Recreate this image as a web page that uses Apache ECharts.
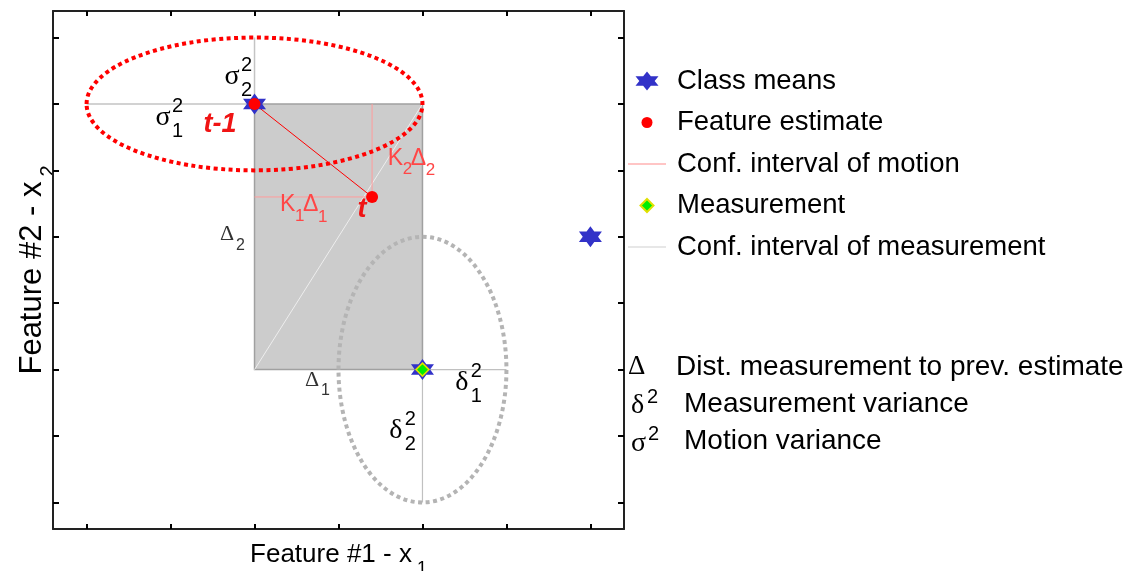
<!DOCTYPE html>
<html><head><meta charset="utf-8">
<script src="https://cdn.jsdelivr.net/npm/echarts@6/dist/echarts.min.js"></script>
<style>html,body{margin:0;padding:0;background:#fff}#c{width:1142px;height:571px}</style>
</head><body><div id="c"></div>
<script>
const SANS = '"Liberation Sans", Arial, sans-serif';
const SERIF = '"Liberation Serif", "Times New Roman", serif';

// ---- axes ----
const xRange = [0.6, 7.4];
const yRange = [0.6, 8.4];
const xTicks = [1, 2, 3, 4, 5, 6, 7];
const yTicks = [1, 2, 3, 4, 5, 6, 7, 8];

// ---- data ----
const classMeans = [[3, 7], [5, 3], [7, 5]];
const featureEstimates = [[3, 7], [4.4, 5.6]];
const measurement = [[5, 3]];
const estimateTrack = [[3, 7], [4.4, 5.6]];
const motionGuide = [[3, 5.6], [4.4, 5.6], [4.4, 7]];
const measurementGuide = [[6, 3], [5, 3], [5, 1]];
const motionVarianceGuide = [[1, 7], [3, 7], [3, 8]];
const distanceBox = [[3, 3, 5, 7]];
const distanceDiagonal = [[3, 3], [5, 7]];
const motionEllipse = [[3, 7, 2, 1]];          // cx, cy, semi-x, semi-y
const measurementEllipse = [[5, 3, 1, 2]];

// ---- texts ----
const legendNames = ['Class means', 'Feature estimate', 'Conf. interval of motion', 'Measurement', 'Conf. interval of measurement'];
const noteSymbols = ['Δ', 'δ', 'σ'];
const noteTexts = ['Dist. measurement to prev. estimate', 'Measurement variance', 'Motion variance'];
const xTitle = ['Feature #1 - x', '1'];
const yTitle = ['Feature #2 - x', '2'];
const annotations = [
  { at: [2.731, 7.406], type: 'var', base: 'σ', sup: '2', sub: '2' },
  { at: [1.910, 6.789], type: 'var', base: 'σ', sup: '2', sub: '1' },
  { at: [5.469, 2.798], type: 'var', base: 'δ', sup: '2', sub: '1' },
  { at: [4.683, 2.075], type: 'var', base: 'δ', sup: '2', sub: '2' },
  { at: [2.588, 6.683], type: 'time', base: 't-1' },
  { at: [4.279, 5.403], type: 'time', base: 't' },
  { at: [4.588, 6.179], type: 'gain', sub: '2' },
  { at: [3.302, 5.478], type: 'gain', sub: '1' },
  { at: [2.588, 5.034], type: 'dist', sub: '2' },
  { at: [3.600, 2.843], type: 'dist', sub: '1' }
];

const starPath = 'path://M19,0.5L22.84,5.25L30.5,5.25L26.66,10L30.5,14.75L22.84,14.75L19,19.5L15.16,14.75L7.5,14.75L11.34,10L7.5,5.25L15.16,5.25Z';
const starIcon = 'path://M0,0M38,20M19,0.5L22.84,5.25L30.5,5.25L26.66,10L30.5,14.75L22.84,14.75L19,19.5L15.16,14.75L7.5,14.75L11.34,10L7.5,5.25L15.16,5.25Z';
const dotIcon = 'path://M0,0M38,20M24.5,10A5.5,5.5,0,1,1,13.5,10A5.5,5.5,0,1,1,24.5,10Z';
const diamondIcon = 'path://M0,0M38,20M19,3.5L25.5,10L19,16.5L12.5,10Z';
const lineIcon = 'path://M0,0M38,20M0,9.4L38,9.4L38,10.6L0,10.6Z';

function txt(kids, p, text, dx, dy, size, color, align, family, extra) {
  kids.push({
    type: 'text', x: p[0] + dx, y: p[1] + dy,
    style: Object.assign({ text: text, fontSize: size, fontFamily: family || SANS, fill: color, align: align, verticalAlign: 'middle' }, extra || {})
  });
}

function annotationItem(params, api) {
  const a = annotations[params.dataIndex];
  const p = api.coord([api.value(0), api.value(1)]);
  const kids = [];
  if (a.type === 'var') {
    txt(kids, p, a.base, 0, 0, 28, '#000', 'center', SERIF);
    txt(kids, p, a.sup, 9, -12, 20, '#000', 'left');
    txt(kids, p, a.sub, 9, 13, 20, '#000', 'left');
  } else if (a.type === 'time') {
    txt(kids, p, a.base, 0, 0, 27, '#f01414', 'center', SANS, { fontWeight: 'bold', fontStyle: 'italic' });
  } else if (a.type === 'gain') {
    const c = '#ff4646';
    txt(kids, p, 'K', 0, 0, 23, c, 'left');
    txt(kids, p, a.sub, 15, 11, 17, c, 'left');
    txt(kids, p, 'Δ', 23, 0, 23, c, 'left');
    txt(kids, p, a.sub, 38, 12, 17, c, 'left');
  } else if (a.type === 'dist') {
    const c = '#333333';
    txt(kids, p, 'Δ', 0, 0, 22, c, 'left', SERIF);
    txt(kids, p, a.sub, 16, 11, 16, c, 'left');
  }
  return { type: 'group', children: kids };
}

function ellipseItem(color) {
  return function (params, api) {
    const c = api.coord([api.value(0), api.value(1)]);
    const s = api.size([api.value(2), api.value(3)]);
    return {
      type: 'ellipse',
      shape: { cx: c[0], cy: c[1], rx: s[0], ry: s[1] },
      style: { fill: null, stroke: color, lineWidth: 4, lineDash: [4, 3.5], lineCap: 'butt' }
    };
  };
}

function boxItem(params, api) {
  const p1 = api.coord([api.value(0), api.value(3)]);
  const p2 = api.coord([api.value(2), api.value(1)]);
  return {
    type: 'rect',
    shape: { x: p1[0], y: p1[1], width: p2[0] - p1[0], height: p2[1] - p1[1] },
    style: { fill: '#cccccc', stroke: '#a0a0a0', lineWidth: 1.5 }
  };
}

function axisCommon(extra) {
  return Object.assign({
    type: 'value',
    axisLine: { show: true, onZero: false, lineStyle: { color: '#222', width: 2 } },
    axisTick: { show: true, inside: true, length: 5, lineStyle: { color: '#000', width: 2 } },
    axisLabel: { show: false },
    splitLine: { show: false },
    nameMoveOverlap: false
  }, extra);
}

const richX = {
  b: { fontSize: 26, lineHeight: 26, fontFamily: SANS, color: '#000', verticalAlign: 'top' },
  s: { fontSize: 18, lineHeight: 18, fontFamily: SANS, color: '#000', verticalAlign: 'top', padding: [18, 0, 0, 5] }
};
const richY = {
  b: { fontSize: 31, lineHeight: 31, fontFamily: SANS, color: '#000', verticalAlign: 'top' },
  s: { fontSize: 20, lineHeight: 20, fontFamily: SANS, color: '#000', verticalAlign: 'top', padding: [21, 0, 0, 5] }
};

const graphicNotes = [];
function note(text, x, y, size, family) {
  graphicNotes.push({ type: 'text', x: x, y: y, style: { text: text, fontSize: size, fontFamily: family || SANS, fill: '#000', align: 'left', verticalAlign: 'middle' } });
}
note(noteSymbols[0], 628, 367, 27, SERIF);
note(noteTexts[0], 676, 367, 28);
note(noteSymbols[1], 631, 406, 28, SERIF);
note('2', 647, 397, 20);
note(noteTexts[1], 684, 404, 28);
note(noteSymbols[2], 631, 444, 28, SERIF);
note('2', 648, 434, 20);
note(noteTexts[2], 684, 441, 28);

const chart = echarts.init(document.getElementById('c'), null, { renderer: 'canvas' });
chart.setOption({
  animation: false,
  backgroundColor: '#fff',
  grid: { left: 53, right: 518, top: 11, bottom: 42, containLabel: false, outerBoundsMode: 'none' },
  xAxis: [
    axisCommon({
      min: xRange[0], max: xRange[1], position: 'bottom',
      axisTick: { show: true, inside: true, length: 5, customValues: xTicks, lineStyle: { color: '#000', width: 2 } },
      name: '{b|' + xTitle[0] + '}{s|' + xTitle[1] + '}', nameLocation: 'middle', nameGap: 13,
      nameTextStyle: { rich: richX }
    }),
    axisCommon({
      min: xRange[0], max: xRange[1], position: 'top',
      axisTick: { show: true, inside: true, length: 5, customValues: xTicks, lineStyle: { color: '#000', width: 2 } }
    })
  ],
  yAxis: [
    axisCommon({
      min: yRange[0], max: yRange[1], position: 'left',
      axisTick: { show: true, inside: true, length: 6, customValues: yTicks, lineStyle: { color: '#000', width: 2 } },
      name: '{b|' + yTitle[0] + '}{s|' + yTitle[1] + '}', nameLocation: 'middle', nameGap: 5, nameRotate: 90,
      nameTextStyle: { rich: richY }
    }),
    axisCommon({
      min: yRange[0], max: yRange[1], position: 'right',
      axisTick: { show: true, inside: true, length: 6, customValues: yTicks, lineStyle: { color: '#000', width: 2 } }
    })
  ],
  legend: {
    orient: 'vertical', left: 622, top: 62,
    itemWidth: 38, itemHeight: 20, itemGap: 13.5,
    selectedMode: false,
    textStyle: { fontSize: 27.5, lineHeight: 27, fontFamily: SANS, color: '#000', padding: [0, 0, 0, 6] },
    data: [
      { name: legendNames[0], icon: starIcon },
      { name: legendNames[1], icon: dotIcon },
      { name: legendNames[2], icon: lineIcon, itemStyle: { color: '#ff8c8c', borderWidth: 0 } },
      { name: legendNames[3], icon: diamondIcon },
      { name: legendNames[4], icon: lineIcon, itemStyle: { color: '#d0d0d0', borderWidth: 0 } }
    ]
  },
  graphic: graphicNotes,
  series: [
    { type: 'custom', name: '_box', renderItem: boxItem, data: distanceBox, z: 1, silent: true },
    { type: 'line', name: '_diag', data: distanceDiagonal, symbol: 'none', lineStyle: { color: '#eeeeee', width: 1 }, z: 2, silent: true },
    { type: 'line', name: '_sigma', data: motionVarianceGuide, symbol: 'none', lineStyle: { color: '#c4c4c4', width: 1.5 }, z: 2, silent: true },
    { type: 'line', name: legendNames[4], data: measurementGuide, symbol: 'none', lineStyle: { color: '#c0c0c0', width: 1.2 }, itemStyle: { color: '#d0d0d0' }, z: 2, silent: true },
    { type: 'line', name: legendNames[2], data: motionGuide, symbol: 'none', lineStyle: { color: '#ff9c9c', width: 1 }, itemStyle: { color: '#ff8c8c' }, z: 2, silent: true },
    { type: 'custom', name: '_motionEllipse', renderItem: ellipseItem('#ff0000'), data: motionEllipse, z: 3, silent: true },
    { type: 'custom', name: '_measEllipse', renderItem: ellipseItem('#b4b4b4'), data: measurementEllipse, z: 3, silent: true },
    { type: 'line', name: '_track', data: estimateTrack, symbol: 'none', lineStyle: { color: '#ff0000', width: 1 }, z: 4, silent: true },
    { type: 'scatter', name: legendNames[0], data: classMeans, symbol: starPath, symbolSize: [23, 21], itemStyle: { color: '#3232c8', opacity: 1 }, z: 5, silent: true },
    { type: 'scatter', name: legendNames[1], data: featureEstimates, symbol: 'circle', symbolSize: 12, itemStyle: { color: '#ff0000', opacity: 1 }, z: 6, silent: true },
    { type: 'scatter', name: legendNames[3], data: measurement, symbol: 'diamond', symbolSize: 13, itemStyle: { color: '#00ee00', borderColor: '#e0e000', borderWidth: 1.5, opacity: 1 }, z: 7, silent: true },
    { type: 'custom', name: '_labels', renderItem: annotationItem, data: annotations.map(a => a.at), z: 8, silent: true }
  ]
});
</script>
</body></html>
